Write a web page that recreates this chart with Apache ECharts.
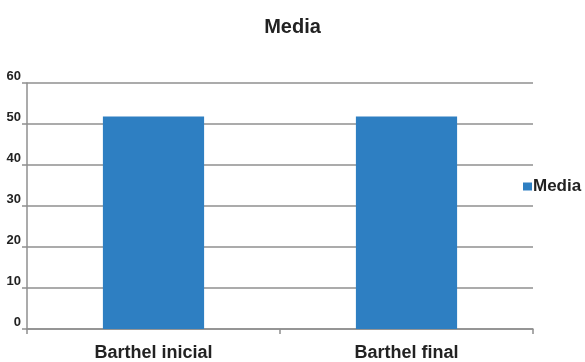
<!DOCTYPE html>
<html><head><meta charset="utf-8">
<script src="https://cdn.jsdelivr.net/npm/echarts@6/dist/echarts.min.js"></script>
<style>html,body{margin:0;padding:0;background:#fff}#c{width:585px;height:362px}</style>
</head><body><div id="c"></div>
<script>
const categories = ['Barthel inicial', 'Barthel final'];
const mediaValues = [51.8, 51.8];
const seriesName = 'Media';
const chartTitle = 'Media';

const chart = echarts.init(document.getElementById('c'), null, {renderer: 'canvas'});
const gray = '#8f8f8f';
const ff = 'Liberation Sans, Arial';
chart.setOption({
  animation: false,
  title: {
    text: chartTitle, left: 'center', top: 12,
    textStyle: {fontFamily: ff, fontWeight: 'bold', fontSize: 20, color: '#222'}
  },
  legend: {
    data: [seriesName], left: 518, top: 173,
    icon: 'rect', itemWidth: 9, itemHeight: 8, itemGap: 2,
    textStyle: {fontFamily: ff, fontWeight: 'bold', fontSize: 17, color: '#222', padding: [0,0,0,-4]}
  },
  grid: {left: 27, right: 52, top: 83, bottom: 33, containLabel: false},
  xAxis: {
    type: 'category', data: categories, boundaryGap: true,
    axisLine: {lineStyle: {color: gray, width: 1.5}},
    axisTick: {show: true, length: 5, alignWithLabel: false, lineStyle: {color: gray, width: 1.5}},
    axisLabel: {margin: 15, fontFamily: ff, fontWeight: 'bold', fontSize: 18, color: '#222'}
  },
  yAxis: {
    type: 'value', min: 0, max: 60, interval: 10,
    axisLine: {show: true, lineStyle: {color: gray, width: 1.5}},
    axisTick: {show: true, length: 5, lineStyle: {color: gray, width: 1.5}},
    splitLine: {lineStyle: {color: gray, width: 1.5}},
    axisLabel: {margin: 6, verticalAlign: 'bottom', lineHeight: 14, fontFamily: ff, fontWeight: 'bold', fontSize: 13, color: '#222'}
  },
  series: [{
    name: seriesName, type: 'bar', data: mediaValues, barWidth: '40%',
    itemStyle: {color: '#2e7fc2'}
  }]
});
</script></body></html>
